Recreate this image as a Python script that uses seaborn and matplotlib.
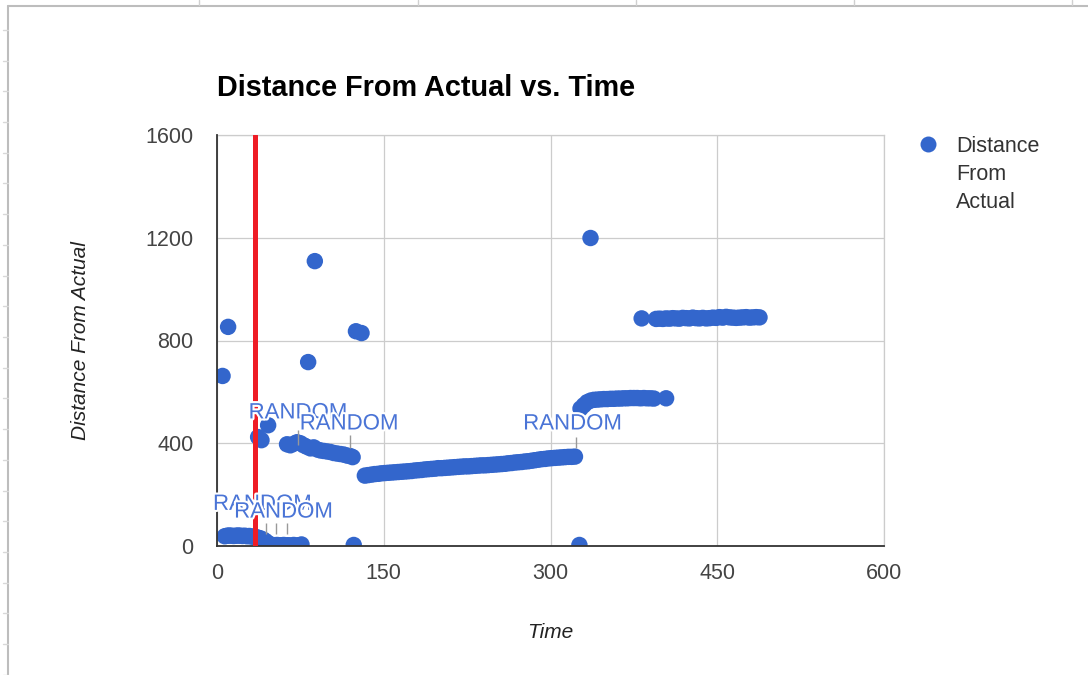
import numpy as np
import pandas as pd
import matplotlib
matplotlib.use("Agg")
import matplotlib.pyplot as plt
import matplotlib.patheffects as pe
from matplotlib.lines import Line2D
import seaborn as sns

# ---------------- data ----------------
title = "Distance From Actual vs. Time"
x_label = "Time"
y_label = "Distance From Actual"
series_lines = ["Distance", "From", "Actual"]

x_ticks = [0, 150, 300, 450, 600]
y_ticks = [0, 400, 800, 1200, 1600]

# isolated points
time_iso = [5, 10, 82, 88, 125, 130, 123, 326, 336, 37, 40, 46]
dist_iso = [662, 853, 716, 1109, 836, 829, 4, 4, 1199, 424, 412, 470]

# early low cluster
time_low = [7, 9, 11, 13, 15, 17, 19, 21, 23, 25, 27, 29, 31, 33, 36, 39, 42, 44,
            46, 48, 50, 52, 54, 56, 58, 60, 62, 64, 66, 69, 73, 76]
dist_low = [38, 40, 41, 40, 39, 40, 41, 40, 39, 40, 38, 39, 37, 36, 34, 30, 24, 18,
            10, 6, 4, 3, 4, 2, 3, 4, 2, 3, 2, 4, 3, 6]

# cluster around 350-400
time_mid = [63, 66, 69, 72, 75, 78, 81, 84, 87, 90, 93, 96, 99, 102, 105, 108,
            111, 114, 117, 120, 122]
dist_mid = [396, 392, 398, 404, 400, 392, 386, 380, 384, 376, 372, 370, 368, 366,
            362, 360, 358, 356, 352, 350, 346]

# long rising band
time_band = [133, 136, 139, 142, 145, 148, 151, 154, 157, 160, 163, 166, 169, 172,
             175, 178, 181, 184, 187, 190, 193, 196, 199, 202, 205, 208, 211, 214,
             217, 220, 223, 226, 229, 232, 235, 238, 241, 244, 247, 250, 253, 256,
             259, 262, 265, 268, 271, 274, 277, 280, 283, 286, 289, 292, 295, 298,
             301, 304, 307, 310, 313, 316, 319, 322]
dist_band = [274, 276, 278, 280, 281, 283, 284, 285, 286, 287, 288, 289, 290, 291,
             292, 294, 295, 296, 298, 299, 300, 301, 303, 303, 304, 305, 306, 307,
             308, 309, 310, 310, 311, 312, 313, 314, 314, 315, 316, 317, 318, 319,
             320, 322, 323, 325, 326, 327, 329, 330, 332, 334, 336, 338, 339, 341,
             342, 343, 344, 345, 346, 347, 347, 348]

# band around 570
time_b570 = [327, 330, 333, 336, 339, 342, 345, 348, 351, 354, 357, 360, 363, 366,
             369, 372, 375, 378, 381, 384, 387, 390, 393, 404]
dist_b570 = [535, 548, 560, 566, 569, 570, 571, 572, 572, 573, 573, 574, 574, 575,
             575, 576, 576, 576, 575, 576, 575, 575, 574, 575]

# top band around 890
time_top = [382, 395, 398, 401, 404, 407, 410, 413, 416, 419, 422, 425, 428, 431,
            434, 437, 440, 443, 446, 449, 452, 455, 458, 461, 464, 467, 470, 473,
            476, 479, 482, 485, 488]
dist_top = [886, 884, 885, 884, 886, 885, 887, 886, 885, 888, 887, 886, 889, 887,
            886, 888, 886, 887, 889, 888, 891, 889, 892, 890, 889, 888, 889, 890,
            891, 889, 890, 891, 890]

# annotations ("RANDOM" labels)
ann_text = ["RANDOM", "RANDOM", "RANDOM", "RANDOM", "RANDOM"]
ann_time = [41, 60, 73, 119, 320]
ann_dist = [162, 132, 518, 475, 475]
stem_time = [44, 53, 63, 73, 120, 323]
stem_lo = [45, 45, 45, 393, 381, 381]
stem_hi = [90, 90, 90, 451, 432, 424]

red_line_time = 34

# ---------------- build frame ----------------
time = time_iso + time_low + time_mid + time_band + time_b570 + time_top
dist = dist_iso + dist_low + dist_mid + dist_band + dist_b570 + dist_top
df = pd.DataFrame({"Time": time, "Distance": dist})

# ---------------- style ----------------
sns.set_theme(style="white")
plt.rcParams["font.family"] = ["Liberation Sans", "DejaVu Sans"]

W, H = 1088, 675
fig = plt.figure(figsize=(W / 100, H / 100), dpi=100)
fig.patch.set_facecolor("white")
ax = fig.add_axes([217 / W, 1 - 546 / H, (884 - 217) / W, (546 - 135) / H])

blue = "#3366cc"
sns.scatterplot(data=df, x="Time", y="Distance", ax=ax, color=blue, s=140,
                edgecolor="none", linewidth=0, zorder=3, legend=False)

ax.set_xlim(x_ticks[0], x_ticks[-1])
ax.set_ylim(y_ticks[0], y_ticks[-1])
ax.set_xticks(x_ticks)
ax.set_yticks(y_ticks)
ax.tick_params(axis="both", length=0, labelsize=15.5, labelcolor="#444444")
ax.tick_params(axis="y", pad=17)
ax.tick_params(axis="x", pad=12)
ax.grid(True, color="#cccccc", linewidth=0.9, zorder=0)
ax.set_axisbelow(True)
for side in ["top", "right"]:
    ax.spines[side].set_color("#cccccc")
    ax.spines[side].set_linewidth(0.9)
for side in ["left", "bottom"]:
    ax.spines[side].set_color("#333333")
    ax.spines[side].set_linewidth(1.3)
    ax.spines[side].set_zorder(4)

ax.set_xlabel(x_label, fontsize=15, style="italic", color="#222222", labelpad=28)
ax.set_ylabel(y_label, fontsize=15, style="italic", color="#222222", labelpad=40)
fig.text(217 / W, 1 - 88 / H, title, fontsize=20.8, fontweight="bold",
         color="#000000", ha="left", va="center")

# red marker line
ax.axvline(red_line_time, color="#ee1c25", linewidth=3.6, zorder=6)

# annotation stems & labels
ax.vlines(stem_time, stem_lo, stem_hi, color="#999999", linewidth=1, zorder=4)
for t, d, s in zip(ann_time, ann_dist, ann_text):
    ax.text(t, d, s, fontsize=16, color="#4a74d6", ha="center", va="center",
            zorder=7,
            path_effects=[pe.withStroke(linewidth=3, foreground="white")])

# legend: marker beside first line, wrapped label below
ax.plot([], [], marker="o", linestyle="none", markersize=11.5,
        markerfacecolor=blue, markeredgecolor="none", label=series_lines[0])
leg = fig.legend(loc="center left", bbox_to_anchor=(917 / W, 1 - 146 / H),
                 frameon=False, fontsize=15.5, handletextpad=0.8, borderpad=0,
                 borderaxespad=0, handlelength=1.0)
for txt in leg.get_texts():
    txt.set_color("#333333")
fig.canvas.draw()
bb = leg.get_texts()[0].get_window_extent()
x_text = bb.x0 / W
for i, line in enumerate(series_lines[1:], start=1):
    fig.text(x_text, 1 - (146 + 28.5 * i) / H, line, fontsize=15.5,
             color="#333333", ha="left", va="center")

# spreadsheet frame decoration
frame_col = "#bdbdbd"
fig.add_artist(Line2D([8 / W, 1], [1 - 6 / H, 1 - 6 / H], transform=fig.transFigure,
                      color=frame_col, linewidth=1.5))
fig.add_artist(Line2D([8 / W, 8 / W], [0, 1 - 6 / H], transform=fig.transFigure,
                      color=frame_col, linewidth=1.5))
for xp in [199, 418, 636, 854, 1072]:
    fig.add_artist(Line2D([xp / W, xp / W], [1 - 5 / H, 1], transform=fig.transFigure,
                          color="#d0d0d0", linewidth=1))
for k in range(22):
    yp = 30 + 30.7 * k
    fig.add_artist(Line2D([3 / W, 8 / W], [1 - yp / H, 1 - yp / H],
                          transform=fig.transFigure, color="#d8d8d8", linewidth=1))

fig.savefig("out.png", dpi=100, facecolor="white")
